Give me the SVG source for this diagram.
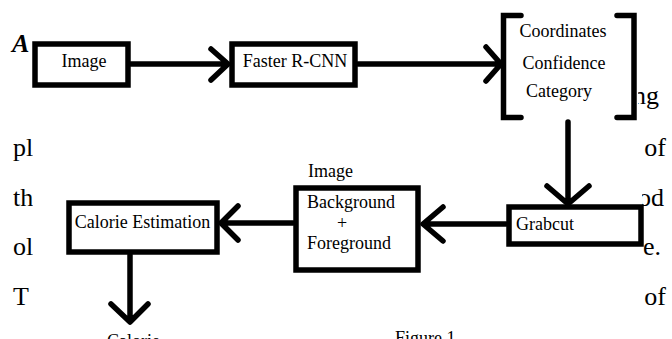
<svg xmlns="http://www.w3.org/2000/svg" width="672" height="339" viewBox="0 0 672 339">
<style>
.box{fill:#fff;stroke:#000;stroke-width:5.5}
.ln{fill:none;stroke:#000;stroke-width:5.5;stroke-linecap:round;stroke-linejoin:round}
.br{fill:none;stroke:#000;stroke-width:5.5;stroke-linecap:round;stroke-linejoin:miter}
.t{font-family:"Liberation Serif","Times New Roman",serif;font-size:18px;fill:#000}
.m{text-anchor:middle}
.p{font-family:"Liberation Serif","Times New Roman",serif;font-size:26px;fill:#000}
</style>
<defs>
<clipPath id="paperclip">
<rect x="0" y="0" width="33" height="339"/>
<rect x="638" y="0" width="34" height="120"/>
<rect x="642" y="120" width="30" height="219"/>
</clipPath>
</defs>
<rect width="672" height="339" fill="#fff"/>
<g id="paper-text" clip-path="url(#paperclip)">
<text class="p" x="13" y="156">pl</text>
<text class="p" x="13" y="206">th</text>
<text class="p" x="13" y="255">ol</text>
<text class="p" x="13" y="305">T</text>
<text class="p" x="659" y="104" text-anchor="end">ng</text>
<text class="p" x="666" y="156" text-anchor="end">of</text>
<text class="p" x="664" y="206" text-anchor="end">od</text>
<text class="p" x="643" y="255">e.</text>
<text class="p" x="666" y="305" text-anchor="end">of</text>
</g>
<text class="p" x="12" y="52" font-weight="bold" font-style="italic">A</text>
<g id="connectors">
<path class="ln" d="M131,64 H227 M211,49 L228,64 L211,80"/>
<path class="ln" d="M358,64 H500 M486,47 L501,64 L486,81"/>
<path class="ln" d="M568,122 V202 M547,186 L568,204 L589,186"/>
<path class="ln" d="M506,224 H424 M443,207 L423,224 L443,241"/>
<path class="ln" d="M293,223 H222 M238,206 L221,223 L238,240"/>
<path class="ln" d="M130,255 V320 M111,304 L130,322 L148,304"/>
</g>
<g id="image">
<rect class="box" x="35" y="44" width="93" height="41"/>
<text class="t m" x="84" y="67">Image</text>
</g>
<g id="faster-rcnn">
<rect class="box" x="232" y="44" width="123" height="41"/>
<text class="t m" x="295" y="67">Faster R-CNN</text>
</g>
<g id="outputs">
<path class="br" d="M521,15.5 H503.5 V117.5 H521"/>
<path class="br" d="M617,15.5 H634 V117.5 H617"/>
<text class="t m" x="563" y="37">Coordinates</text>
<text class="t m" x="564" y="69">Confidence</text>
<text class="t m" x="559" y="97">Category</text>
</g>
<g id="grabcut">
<rect class="box" x="509" y="207" width="132" height="37"/>
<text class="t" x="516" y="230" font-size="17.5">Grabcut</text>
</g>
<g id="image-bg-fg">
<text class="t" x="308" y="177">Image</text>
<rect class="box" x="296" y="188" width="122" height="82"/>
<text class="t" x="307" y="208">Background</text>
<text class="t m" x="342" y="229">+</text>
<text class="t" x="307" y="249">Foreground</text>
</g>
<g id="calorie-estimation">
<rect class="box" x="69" y="203" width="148" height="49"/>
<text class="t m" x="142.5" y="228">Calorie Estimation</text>
</g>
<g id="calorie-output">
<text class="t" x="107" y="347">Calorie</text>
</g>
<g id="caption">
<text class="t" x="395" y="344">Figure 1</text>
</g>
</svg>
